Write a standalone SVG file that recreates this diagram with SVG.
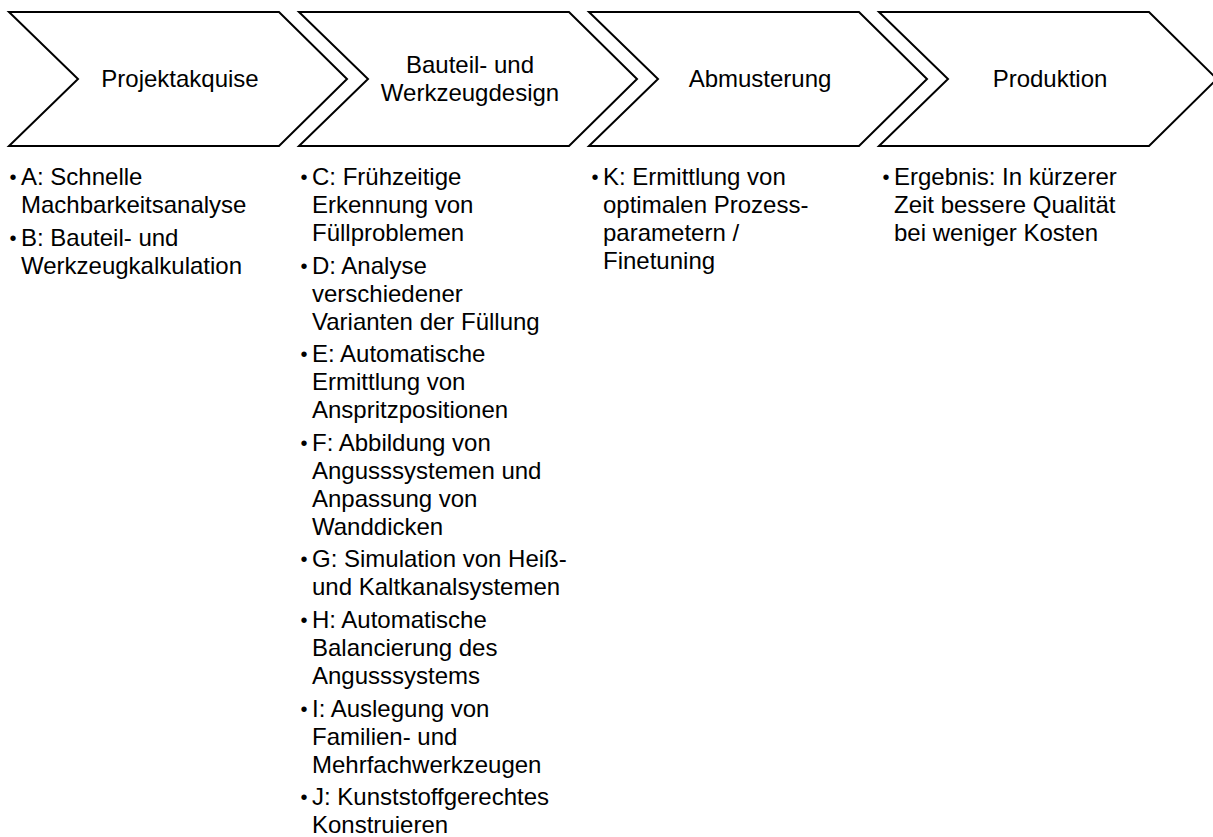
<svg xmlns="http://www.w3.org/2000/svg" width="1213" height="837" viewBox="0 0 1213 837">
  <style>
    .chev { fill: #ffffff; stroke: #000000; stroke-width: 2; stroke-linejoin: miter; }
    .lbl { font-family: "Liberation Sans", Arial, sans-serif; font-size: 24px; fill: #000000; text-anchor: middle; }
    .txt { font-family: "Liberation Sans", Arial, sans-serif; font-size: 24px; fill: #000000; }
    .bul { font-family: "Liberation Sans", Arial, sans-serif; font-size: 20px; fill: #000000; text-anchor: middle; }
  </style>
  <rect x="0" y="0" width="1213" height="837" fill="#ffffff"/>

  <g id="node-projektakquise">
    <polygon class="chev" points="9,12 279,12 347,79 279,146 9,146 78,79"/>
    <text class="lbl" x="180" y="87">Projektakquise</text>
  </g>
  <g id="node-bauteil-werkzeugdesign">
    <polygon class="chev" points="299,12 569,12 637,79 569,146 299,146 368,79"/>
    <text class="lbl" x="470" y="73">Bauteil- und</text>
    <text class="lbl" x="470" y="101">Werkzeugdesign</text>
  </g>
  <g id="node-abmusterung">
    <polygon class="chev" points="589,12 859,12 927,79 859,146 589,146 658,79"/>
    <text class="lbl" x="760" y="87">Abmusterung</text>
  </g>
  <g id="node-produktion">
    <polygon class="chev" points="879,12 1149,12 1217,79 1149,146 879,146 948,79"/>
    <text class="lbl" x="1050" y="87">Produktion</text>
  </g>

  <g id="list-projektakquise">
    <text class="bul" x="13" y="184">•</text>
    <text class="txt" x="21" y="185">A: Schnelle</text>
    <text class="txt" x="21" y="213">Machbarkeitsanalyse</text>
    <text class="bul" x="13" y="244.6">•</text>
    <text class="txt" x="21" y="245.6">B: Bauteil- und</text>
    <text class="txt" x="21" y="273.6">Werkzeugkalkulation</text>
  </g>

  <g id="list-bauteil-werkzeugdesign">
    <text class="bul" x="304" y="184">•</text>
    <text class="txt" x="312" y="185">C: Frühzeitige</text>
    <text class="txt" x="312" y="213">Erkennung von</text>
    <text class="txt" x="312" y="241">Füllproblemen</text>
    <text class="bul" x="304" y="272.6">•</text>
    <text class="txt" x="312" y="273.6">D: Analyse</text>
    <text class="txt" x="312" y="301.6">verschiedener</text>
    <text class="txt" x="312" y="329.6">Varianten der Füllung</text>
    <text class="bul" x="304" y="361.2">•</text>
    <text class="txt" x="312" y="362.2">E: Automatische</text>
    <text class="txt" x="312" y="390.2">Ermittlung von</text>
    <text class="txt" x="312" y="418.2">Anspritzpositionen</text>
    <text class="bul" x="304" y="449.8">•</text>
    <text class="txt" x="312" y="450.8">F: Abbildung von</text>
    <text class="txt" x="312" y="478.8">Angusssystemen und</text>
    <text class="txt" x="312" y="506.8">Anpassung von</text>
    <text class="txt" x="312" y="534.8">Wanddicken</text>
    <text class="bul" x="304" y="566.4">•</text>
    <text class="txt" x="312" y="567.4">G: Simulation von Heiß-</text>
    <text class="txt" x="312" y="595.4">und Kaltkanalsystemen</text>
    <text class="bul" x="304" y="627">•</text>
    <text class="txt" x="312" y="628">H: Automatische</text>
    <text class="txt" x="312" y="656">Balancierung des</text>
    <text class="txt" x="312" y="684">Angusssystems</text>
    <text class="bul" x="304" y="715.6">•</text>
    <text class="txt" x="312" y="716.6">I: Auslegung von</text>
    <text class="txt" x="312" y="744.6">Familien- und</text>
    <text class="txt" x="312" y="772.6">Mehrfachwerkzeugen</text>
    <text class="bul" x="304" y="804.2">•</text>
    <text class="txt" x="312" y="805.2">J: Kunststoffgerechtes</text>
    <text class="txt" x="312" y="833.2">Konstruieren</text>
  </g>

  <g id="list-abmusterung">
    <text class="bul" x="595" y="184">•</text>
    <text class="txt" x="603" y="185">K: Ermittlung von</text>
    <text class="txt" x="603" y="213">optimalen Prozess-</text>
    <text class="txt" x="603" y="241">parametern /</text>
    <text class="txt" x="603" y="269">Finetuning</text>
  </g>

  <g id="list-produktion">
    <text class="bul" x="886" y="184">•</text>
    <text class="txt" x="894" y="185">Ergebnis: In kürzerer</text>
    <text class="txt" x="894" y="213">Zeit bessere Qualität</text>
    <text class="txt" x="894" y="241">bei weniger Kosten</text>
  </g>

  <g id="connectors"></g>
</svg>
